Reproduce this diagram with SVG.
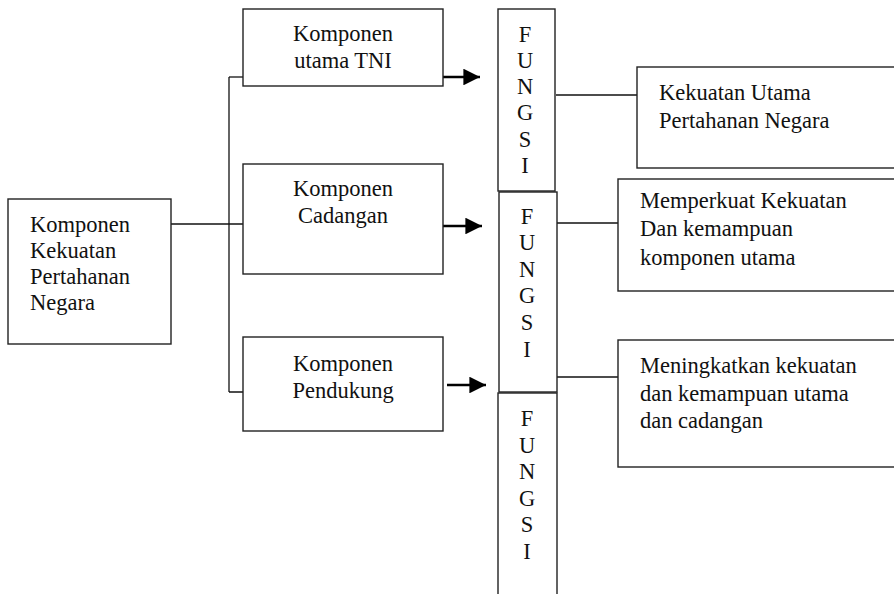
<svg xmlns="http://www.w3.org/2000/svg" width="894" height="594" viewBox="0 0 894 594">
<style>
.box{fill:#fff;stroke:#222;stroke-width:1.4}
.ln{fill:none;stroke:#111;stroke-width:1.3}
.ar{fill:none;stroke:#000;stroke-width:2.6}
.t{font-family:'Liberation Serif','Times New Roman','DejaVu Serif',serif;font-size:22.5px;fill:#111}
.c{text-anchor:middle}
</style>
<defs>
<marker id="ah" viewBox="0 0 10 10" refX="10" refY="5" markerWidth="7" markerHeight="6.4" markerUnits="strokeWidth" orient="auto">
<path d="M0,0 L10,5 L0,10 z" fill="#000"/>
</marker>
</defs>
<rect width="894" height="594" fill="#fff"/>
<g id="connectors">
<path class="ln" d="M171,224 H247"/>
<path class="ln" d="M229,77 V392"/>
<path class="ln" d="M229,77 H256"/>
<path class="ln" d="M229,392 H270"/>
<path class="ln" d="M556,95 H637"/>
<path class="ln" d="M557,223 H618"/>
<path class="ln" d="M557,377 H618"/>
<path class="ar" d="M443,77 H480" marker-end="url(#ah)"/>
<path class="ar" d="M443,226 H482" marker-end="url(#ah)"/>
<path class="ar" d="M447,385 H486" marker-end="url(#ah)"/>
</g>
<g id="n-kekuatan-pertahanan" class="t" font-family="Liberation Serif, serif">
<rect class="box" x="8" y="199" width="163" height="145"/>
<text x="30" y="232">Komponen</text>
<text x="30" y="258">Kekuatan</text>
<text x="30" y="284">Pertahanan</text>
<text x="30" y="310">Negara</text>
</g>
<g id="n-utama" class="t" font-family="Liberation Serif, serif">
<rect class="box" x="243" y="9" width="200" height="77"/>
<text class="c" x="343" y="41">Komponen</text>
<text class="c" x="343" y="68">utama TNI</text>
</g>
<g id="n-cadangan" class="t" font-family="Liberation Serif, serif">
<rect class="box" x="243" y="164" width="200" height="110"/>
<text class="c" x="343" y="196">Komponen</text>
<text class="c" x="343" y="223">Cadangan</text>
</g>
<g id="n-pendukung" class="t" font-family="Liberation Serif, serif">
<rect class="box" x="243" y="337" width="200" height="94"/>
<text class="c" x="343" y="371">Komponen</text>
<text class="c" x="343" y="398">Pendukung</text>
</g>
<g id="n-fungsi1" class="t" font-family="Liberation Serif, serif">
<rect class="box" x="498" y="9" width="57" height="182"/>
<text class="c" x="525" y="42">F</text>
<text class="c" x="525" y="68">U</text>
<text class="c" x="525" y="94">N</text>
<text class="c" x="525" y="120">G</text>
<text class="c" x="525" y="147">S</text>
<text class="c" x="525" y="173">I</text>
</g>
<g id="n-fungsi2" class="t" font-family="Liberation Serif, serif">
<rect class="box" x="499" y="192" width="58" height="200"/>
<text class="c" x="527" y="224">F</text>
<text class="c" x="527" y="250">U</text>
<text class="c" x="527" y="277">N</text>
<text class="c" x="527" y="303">G</text>
<text class="c" x="527" y="330">S</text>
<text class="c" x="527" y="357">I</text>
</g>
<g id="n-fungsi3" class="t" font-family="Liberation Serif, serif">
<rect class="box" x="498" y="393" width="59" height="220"/>
<text class="c" x="527" y="426">F</text>
<text class="c" x="527" y="453">U</text>
<text class="c" x="527" y="479">N</text>
<text class="c" x="527" y="506">G</text>
<text class="c" x="527" y="532">S</text>
<text class="c" x="527" y="559">I</text>
</g>
<g id="n-kekuatan-utama" class="t" font-family="Liberation Serif, serif">
<rect class="box" x="637" y="67" width="270" height="101"/>
<text x="659" y="100">Kekuatan Utama</text>
<text x="659" y="128">Pertahanan Negara</text>
</g>
<g id="n-memperkuat" class="t" font-family="Liberation Serif, serif">
<rect class="box" x="618" y="179" width="290" height="112"/>
<text x="640" y="208">Memperkuat Kekuatan</text>
<text x="640" y="236">Dan kemampuan</text>
<text x="640" y="265">komponen utama</text>
</g>
<g id="n-meningkatkan" class="t" font-family="Liberation Serif, serif">
<rect class="box" x="618" y="340" width="290" height="127"/>
<text x="640" y="373">Meningkatkan kekuatan</text>
<text x="640" y="401">dan kemampuan utama</text>
<text x="640" y="428">dan cadangan</text>
</g>
</svg>
